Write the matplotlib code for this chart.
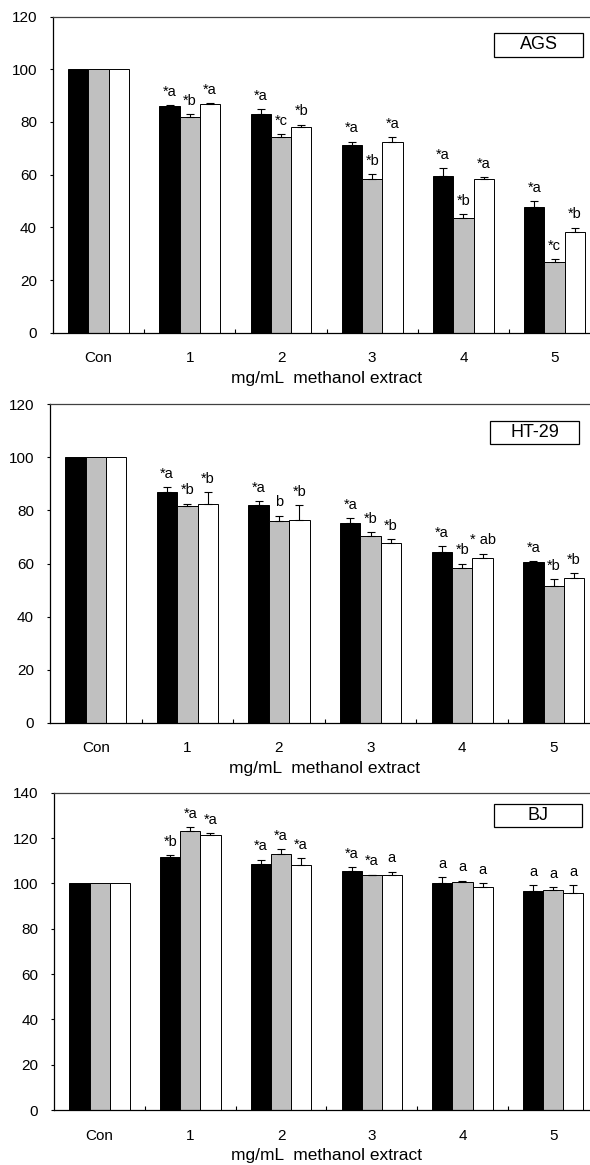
import matplotlib
matplotlib.use('Agg')
import matplotlib.pyplot as plt
from matplotlib.patches import Rectangle
import numpy as np

plt.rcParams['font.family'] = ['Liberation Sans', 'DejaVu Sans']

categories = ['Con', '1', '2', '3', '4', '5']

# AGS
ags_black = [100, 86.1, 83.0, 71.1, 59.4, 47.6]
ags_gray = [100, 82.0, 74.4, 58.5, 43.4, 26.7]
ags_white = [100, 86.7, 78.2, 72.5, 58.2, 38.2]
ags_black_err = [0, 0.2, 1.9, 1.4, 3.0, 2.3]
ags_gray_err = [0, 1.0, 0.9, 1.6, 1.5, 1.3]
ags_white_err = [0, 0.3, 0.8, 1.7, 0.8, 1.7]
ags_black_lab = ['', '*a', '*a', '*a', '*a', '*a']
ags_gray_lab = ['', '*b', '*c', '*b', '*b', '*c']
ags_white_lab = ['', '*a', '*b', '*a', '*a', '*b']

# HT-29
ht_black = [100, 86.8, 82.0, 75.4, 64.4, 60.7]
ht_gray = [100, 81.6, 76.1, 70.2, 58.4, 51.4]
ht_white = [100, 82.6, 76.5, 67.9, 62.2, 54.4]
ht_black_err = [0, 1.9, 1.5, 1.8, 2.2, 0.2]
ht_gray_err = [0, 1.0, 1.9, 1.5, 1.6, 2.6]
ht_white_err = [0, 4.2, 5.5, 1.2, 1.5, 1.9]
ht_black_lab = ['', '*a', '*a', '*a', '*a', '*a']
ht_gray_lab = ['', '*b', 'b', '*b', '*b', '*b']
ht_white_lab = ['', '*b', '*b', '*b', '* ab', '*b']

# BJ
bj_black = [100, 111.6, 108.7, 105.6, 100.0, 96.6]
bj_gray = [100, 123.1, 112.8, 103.7, 100.7, 97.1]
bj_white = [100, 121.4, 108.1, 103.8, 98.4, 95.7]
bj_black_err = [0, 0.9, 1.8, 1.6, 2.9, 2.7]
bj_gray_err = [0, 1.8, 2.4, 0.1, 0.5, 1.3]
bj_white_err = [0, 0.8, 3.1, 1.4, 1.7, 3.6]
bj_black_lab = ['', '*b', '*a', '*a', 'a', 'a']
bj_gray_lab = ['', '*a', '*a', '*a', 'a', 'a']
bj_white_lab = ['', '*a', '*a', 'a', 'a', 'a']

W, H = 590, 1165
fig = plt.figure(figsize=(W / 100, H / 100), dpi=100)

# panel boxes in pixels: left, top, bottom, category spacing
panels = [
    dict(name='AGS', box=(53, 16.5, 332.7, 91.2), ymax=120,
         vals=(ags_black, ags_gray, ags_white),
         errs=(ags_black_err, ags_gray_err, ags_white_err),
         labs=(ags_black_lab, ags_gray_lab, ags_white_lab),
         tag=(494.3, 33, 582.7, 56.7)),
    dict(name='HT-29', box=(50, 404.3, 722.7, 91.6), ymax=120,
         vals=(ht_black, ht_gray, ht_white),
         errs=(ht_black_err, ht_gray_err, ht_white_err),
         labs=(ht_black_lab, ht_gray_lab, ht_white_lab),
         tag=(490.4, 421.3, 578.8, 444.3)),
    dict(name='BJ', box=(54.3, 792.7, 1110, 90.7), ymax=140,
         vals=(bj_black, bj_gray, bj_white),
         errs=(bj_black_err, bj_gray_err, bj_white_err),
         labs=(bj_black_lab, bj_gray_lab, bj_white_lab),
         tag=(494.3, 803.7, 582, 827.3)),
]

colors = ['black', '#c0c0c0', 'white']
width = 0.222
x = np.arange(len(categories))

for p in panels:
    left, top, bottom, sp = p['box']
    wpx = sp * 6
    ax = fig.add_axes([left / W, 1 - bottom / H, wpx / W, (bottom - top) / H])
    for k in range(3):
        xs = x + (k - 1) * width
        ax.bar(xs, p['vals'][k], width, color=colors[k], edgecolor='black',
               linewidth=0.7, zorder=2)
        ax.errorbar(xs[1:], p['vals'][k][1:],
                    yerr=[np.zeros(5), p['errs'][k][1:]],
                    fmt='none', ecolor='black', elinewidth=0.8,
                    capsize=2.8, capthick=0.8, zorder=3)
        for i in range(1, 6):
            top_v = p['vals'][k][i] + p['errs'][k][i]
            ax.annotate(p['labs'][k][i], (xs[i], top_v), xytext=(0, 4.5),
                        textcoords='offset points', ha='center', va='bottom',
                        fontsize=10.5)
    ax.set_xlim(-0.5, 5.5)
    ax.set_ylim(0, p['ymax'])
    ax.set_yticks(np.arange(0, p['ymax'] + 1, 20))
    ax.tick_params(axis='y', direction='out', length=2.5, width=0.8,
                   labelsize=11, pad=9)
    ax.set_xticks(x)
    ax.set_xticklabels(categories)
    ax.tick_params(axis='x', which='major', length=0, labelsize=11, pad=13.5)
    ax.set_xticks(np.arange(0.5, 5, 1), minor=True)
    ax.tick_params(axis='x', which='minor', direction='in', length=3,
                   width=0.8)
    ax.set_xlabel('mg/mL  methanol extract', fontsize=12.5, labelpad=4)
    ax.spines['right'].set_visible(False)
    ax.spines['top'].set_color('#404040')
    ax.spines['top'].set_linewidth(0.9)
    for s in ['left', 'bottom']:
        ax.spines[s].set_linewidth(0.9)

    # name box
    x0, y0, x1, y1 = p['tag']
    rx = (x0 - left) / wpx
    rw = (x1 - x0) / wpx
    ry = (bottom - y1) / (bottom - top)
    rh = (y1 - y0) / (bottom - top)
    ax.add_patch(Rectangle((rx, ry), rw, rh, transform=ax.transAxes,
                           facecolor='white', edgecolor='black',
                           linewidth=0.9, zorder=4))
    ax.text(rx + rw / 2, ry + rh / 2, p['name'], transform=ax.transAxes,
            ha='center', va='center', fontsize=13, zorder=5)

fig.savefig('out.png', dpi=100)
